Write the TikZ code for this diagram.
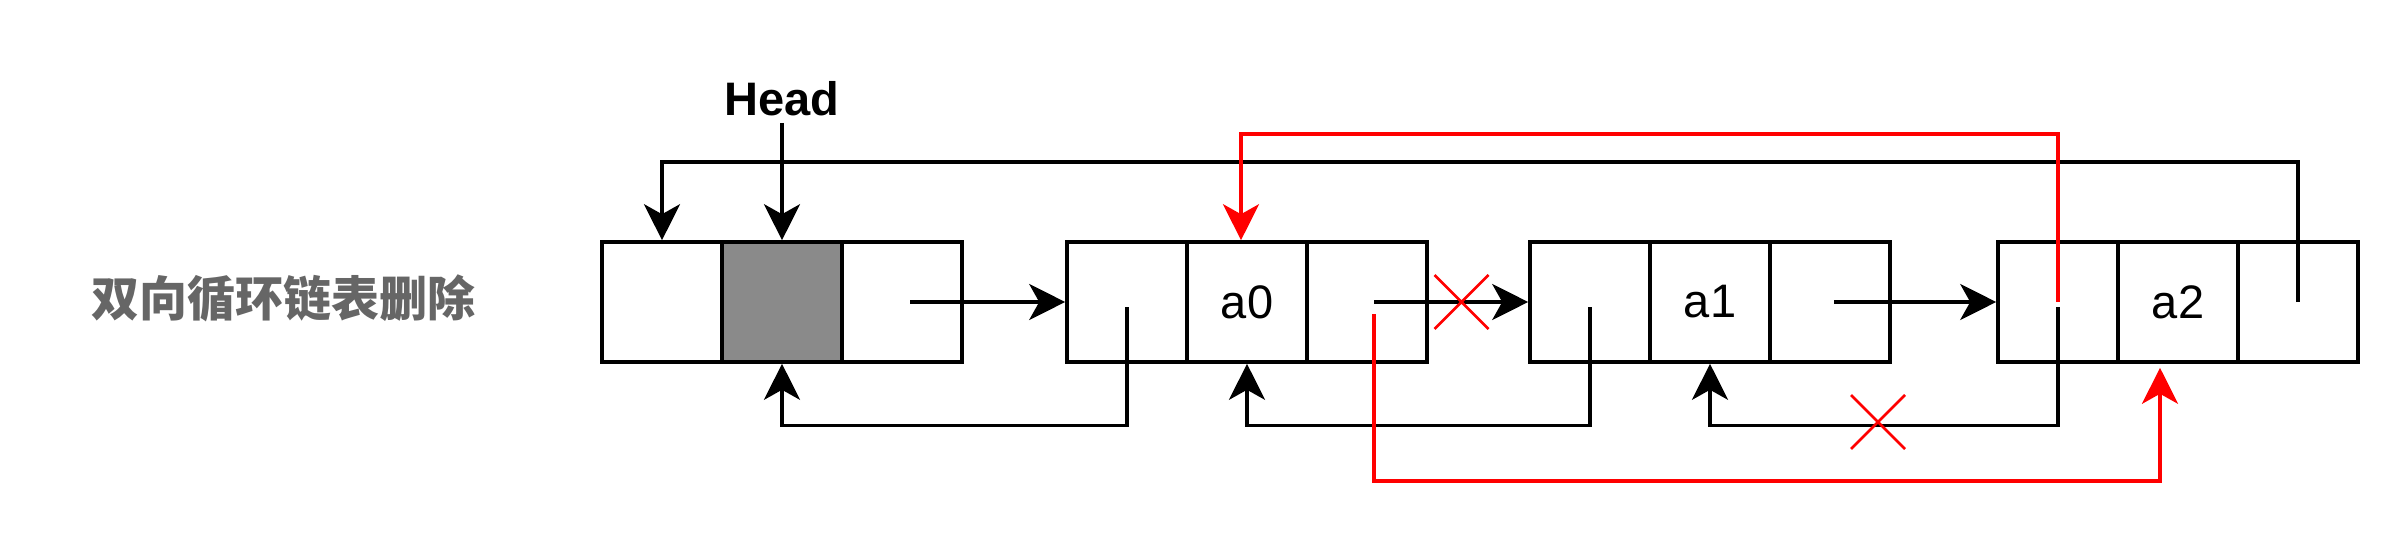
\documentclass[tikz,border=0pt]{standalone}
\usepackage{fontspec}
\setmainfont{Liberation Sans}
\newfontfamily\cjk{Noto Sans CJK SC}
\usetikzlibrary{arrows.meta}
\definecolor{titlegray}{HTML}{666666}
\definecolor{cellgray}{HTML}{8A8A8A}
\begin{document}
\begin{tikzpicture}[x=0.5pt,y=-0.5pt,
  cell/.style={draw, line width=1.8pt, minimum width=60pt, minimum height=60pt, inner sep=0pt, font=\fontsize{23.5pt}{28pt}\selectfont},
  link/.style={line width=1.6pt, -{Stealth[length=18pt,width=18pt,inset=5pt]}},
  redlink/.style={link, draw=red},
  xmark/.style={draw=red, line width=1.3pt}]
\useasboundingbox (0,0) rectangle (2400,556);

\node[font=\cjk\bfseries\fontsize{24pt}{28pt}\selectfont, text=titlegray] (title) at (283,298) {双向循环链表删除};
\node[font=\bfseries\fontsize{23.5pt}{28pt}\selectfont, inner sep=3pt, anchor=base] (head) at (782,116) {Head};

\node[cell] (h1) at (662,302) {};
\node[cell, fill=cellgray] (h2) at (782,302) {};
\node[cell] (h3) at (902,302) {};

\node[cell] (a0l) at (1127,302) {};
\node[cell] (a0m) at (1247,302) {a0};
\node[cell] (a0r) at (1367,302) {};

\node[cell] (a1l) at (1590,302) {};
\node[cell] (a1m) at (1710,302) {a1};
\node[cell] (a1r) at (1830,302) {};

\node[cell] (a2l) at (2058,302) {};
\node[cell] (a2m) at (2178,302) {a2};
\node[cell] (a2r) at (2298,302) {};

\coordinate (top) at (0,162);
\coordinate (bot) at (0,425.5);
\coordinate (rtop) at (0,134);
\coordinate (rbot) at (0,481);

% head pointer
\draw[link] (head.south) -- (h2.north);
% circular link from last node back to head
\draw[link] (a2r.center) -- (a2r.center |- top) -| (h1.north);
% next links
\draw[link] ([xshift=4pt]h3.center) -- (a0l.west);
\draw[link] ([xshift=3.5pt]a0r.center) -- (a1l.west);
\draw[link] ([xshift=2pt]a1r.center) -- (a2l.west);
% prev links
\draw[link] ([yshift=-2.5pt]a0l.center) -- (a0l.center |- bot) -| (h2.south);
\draw[link] ([yshift=-2.5pt]a1l.center) -- (a1l.center |- bot) -| (a0m.south);
\draw[link] ([yshift=-2.5pt]a2l.center) -- (a2l.center |- bot) -| (a1m.south);

% new red links
\coordinate (r0tip) at ([xshift=-3pt]a0m.north);
\draw[redlink] (a2l.center) -- (a2l.center |- rtop) -| (r0tip);
\coordinate (r1) at ([xshift=3.5pt,yshift=-6pt]a0r.center);
\coordinate (r1tip) at ([xshift=-9pt,yshift=-2pt]a2m.south);
\draw[redlink] (r1) -- (r1 |- rbot) -| (r1tip);

% crosses
\coordinate (x1) at (1461.5,302);
\coordinate (x2) at (1878,422);
\draw[xmark] (x1) ++(-27,-27) -- ++(54,54) (x1) ++(-27,27) -- ++(54,-54);
\draw[xmark] (x2) ++(-27,-27) -- ++(54,54) (x2) ++(-27,27) -- ++(54,-54);
\end{tikzpicture}
\end{document}
